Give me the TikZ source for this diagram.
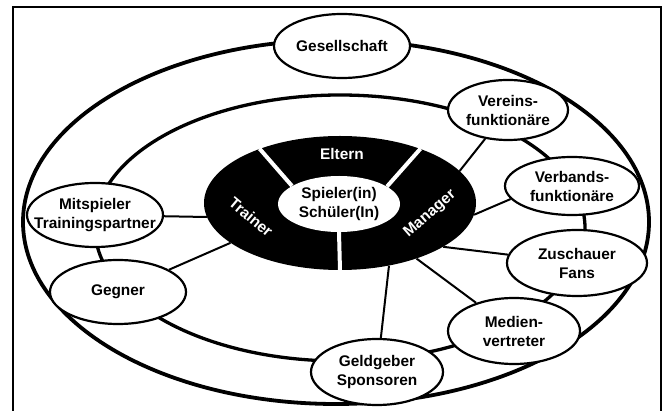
\documentclass[tikz,border=0pt]{standalone}
\usepackage{fontspec}
\setmainfont{Liberation Sans}
\usetikzlibrary{shapes.geometric}
\pgfdeclarelayer{bg}
\pgfsetlayers{bg,main}
\begin{document}
\begin{tikzpicture}[x=1pt,y=-1pt,
  font=\fontsize{15.4}{19}\selectfont\bfseries,
  actor/.style={ellipse, draw=black, line width=2.2pt, fill=white,
    inner xsep=-13pt, inner ysep=0pt, align=center},
  link/.style={line width=2pt},
  ring/.style={line width=3.3pt},
  sector/.style={text=white, inner sep=0pt},
  divider/.style={white, line width=4pt}]
\useasboundingbox (0,0) rectangle (672,411);

% outer persons
\node[actor, minimum width=136pt, minimum height=64pt] (ges) at (342,46) {Gesellschaft};
\node[actor, minimum width=120pt, minimum height=60pt] (vereins) at (508,110) {Vereins-\\funktionäre};
\node[actor, minimum width=134pt, minimum height=58pt] (verbands) at (572,186) {Verbands-\\funktionäre};
\node[actor, minimum width=140pt, minimum height=66pt] (zuschauer) at (577,263) {Zuschauer\\Fans};
\node[actor, minimum width=132pt, minimum height=66pt] (medien) at (514,331) {Medien-\\vertreter};
\node[actor, minimum width=132pt, minimum height=66pt] (geld) at (377,372) {Geldgeber\\Sponsoren};
\node[actor, minimum width=136pt, minimum height=64pt] (gegner) at (118,292) {Gegner};
\node[actor, minimum width=136pt, minimum height=64pt] (mit) at (95,215) {Mitspieler\\Trainingspartner};

% core ring
\node[ellipse, fill=black, minimum width=272pt, minimum height=134pt, inner sep=0pt] (core) at (340,203) {};
\node[ellipse, fill=white, minimum width=122pt, minimum height=56pt, inner sep=0pt, align=center] (spieler) at (339,204) {Spieler(in)\\Schüler(In)};
\draw[divider] (spieler.159) -- (core.146);
\draw[divider] (spieler.20) -- (core.34);
\draw[divider] (spieler.south) -- (core.south);
\node[sector] (eltern) at (342,154) {Eltern};
\node[sector, rotate=-40] (trainer) at (251,217) {Trainer};
\node[sector, rotate=41] (manager) at (430,214) {Manager};

\begin{pgfonlayer}{bg}
  \fill[white] (0,0) rectangle (672,411);
  \draw[line width=2.5pt] (13,414) -- (13,7) -- (661,7) -- (661,414);
  \draw[line width=3.8pt] (336,222) ellipse [x radius=313pt, y radius=182pt];
  \draw[ring] (340,228) ellipse [x radius=245pt, y radius=133pt];
  \draw[link] (core.186) -- (mit);
  \draw[link] (core.200) -- (gegner);
  \draw[link] (core.15) -- (vereins);
  \draw[link] (core.-5) -- (verbands.192);
  \draw[link] (core.-23) -- (zuschauer);
  \draw[link] (core.-36) -- (medien);
  \draw[link] (core.-52) -- (geld);
\end{pgfonlayer}
\end{tikzpicture}
\end{document}
